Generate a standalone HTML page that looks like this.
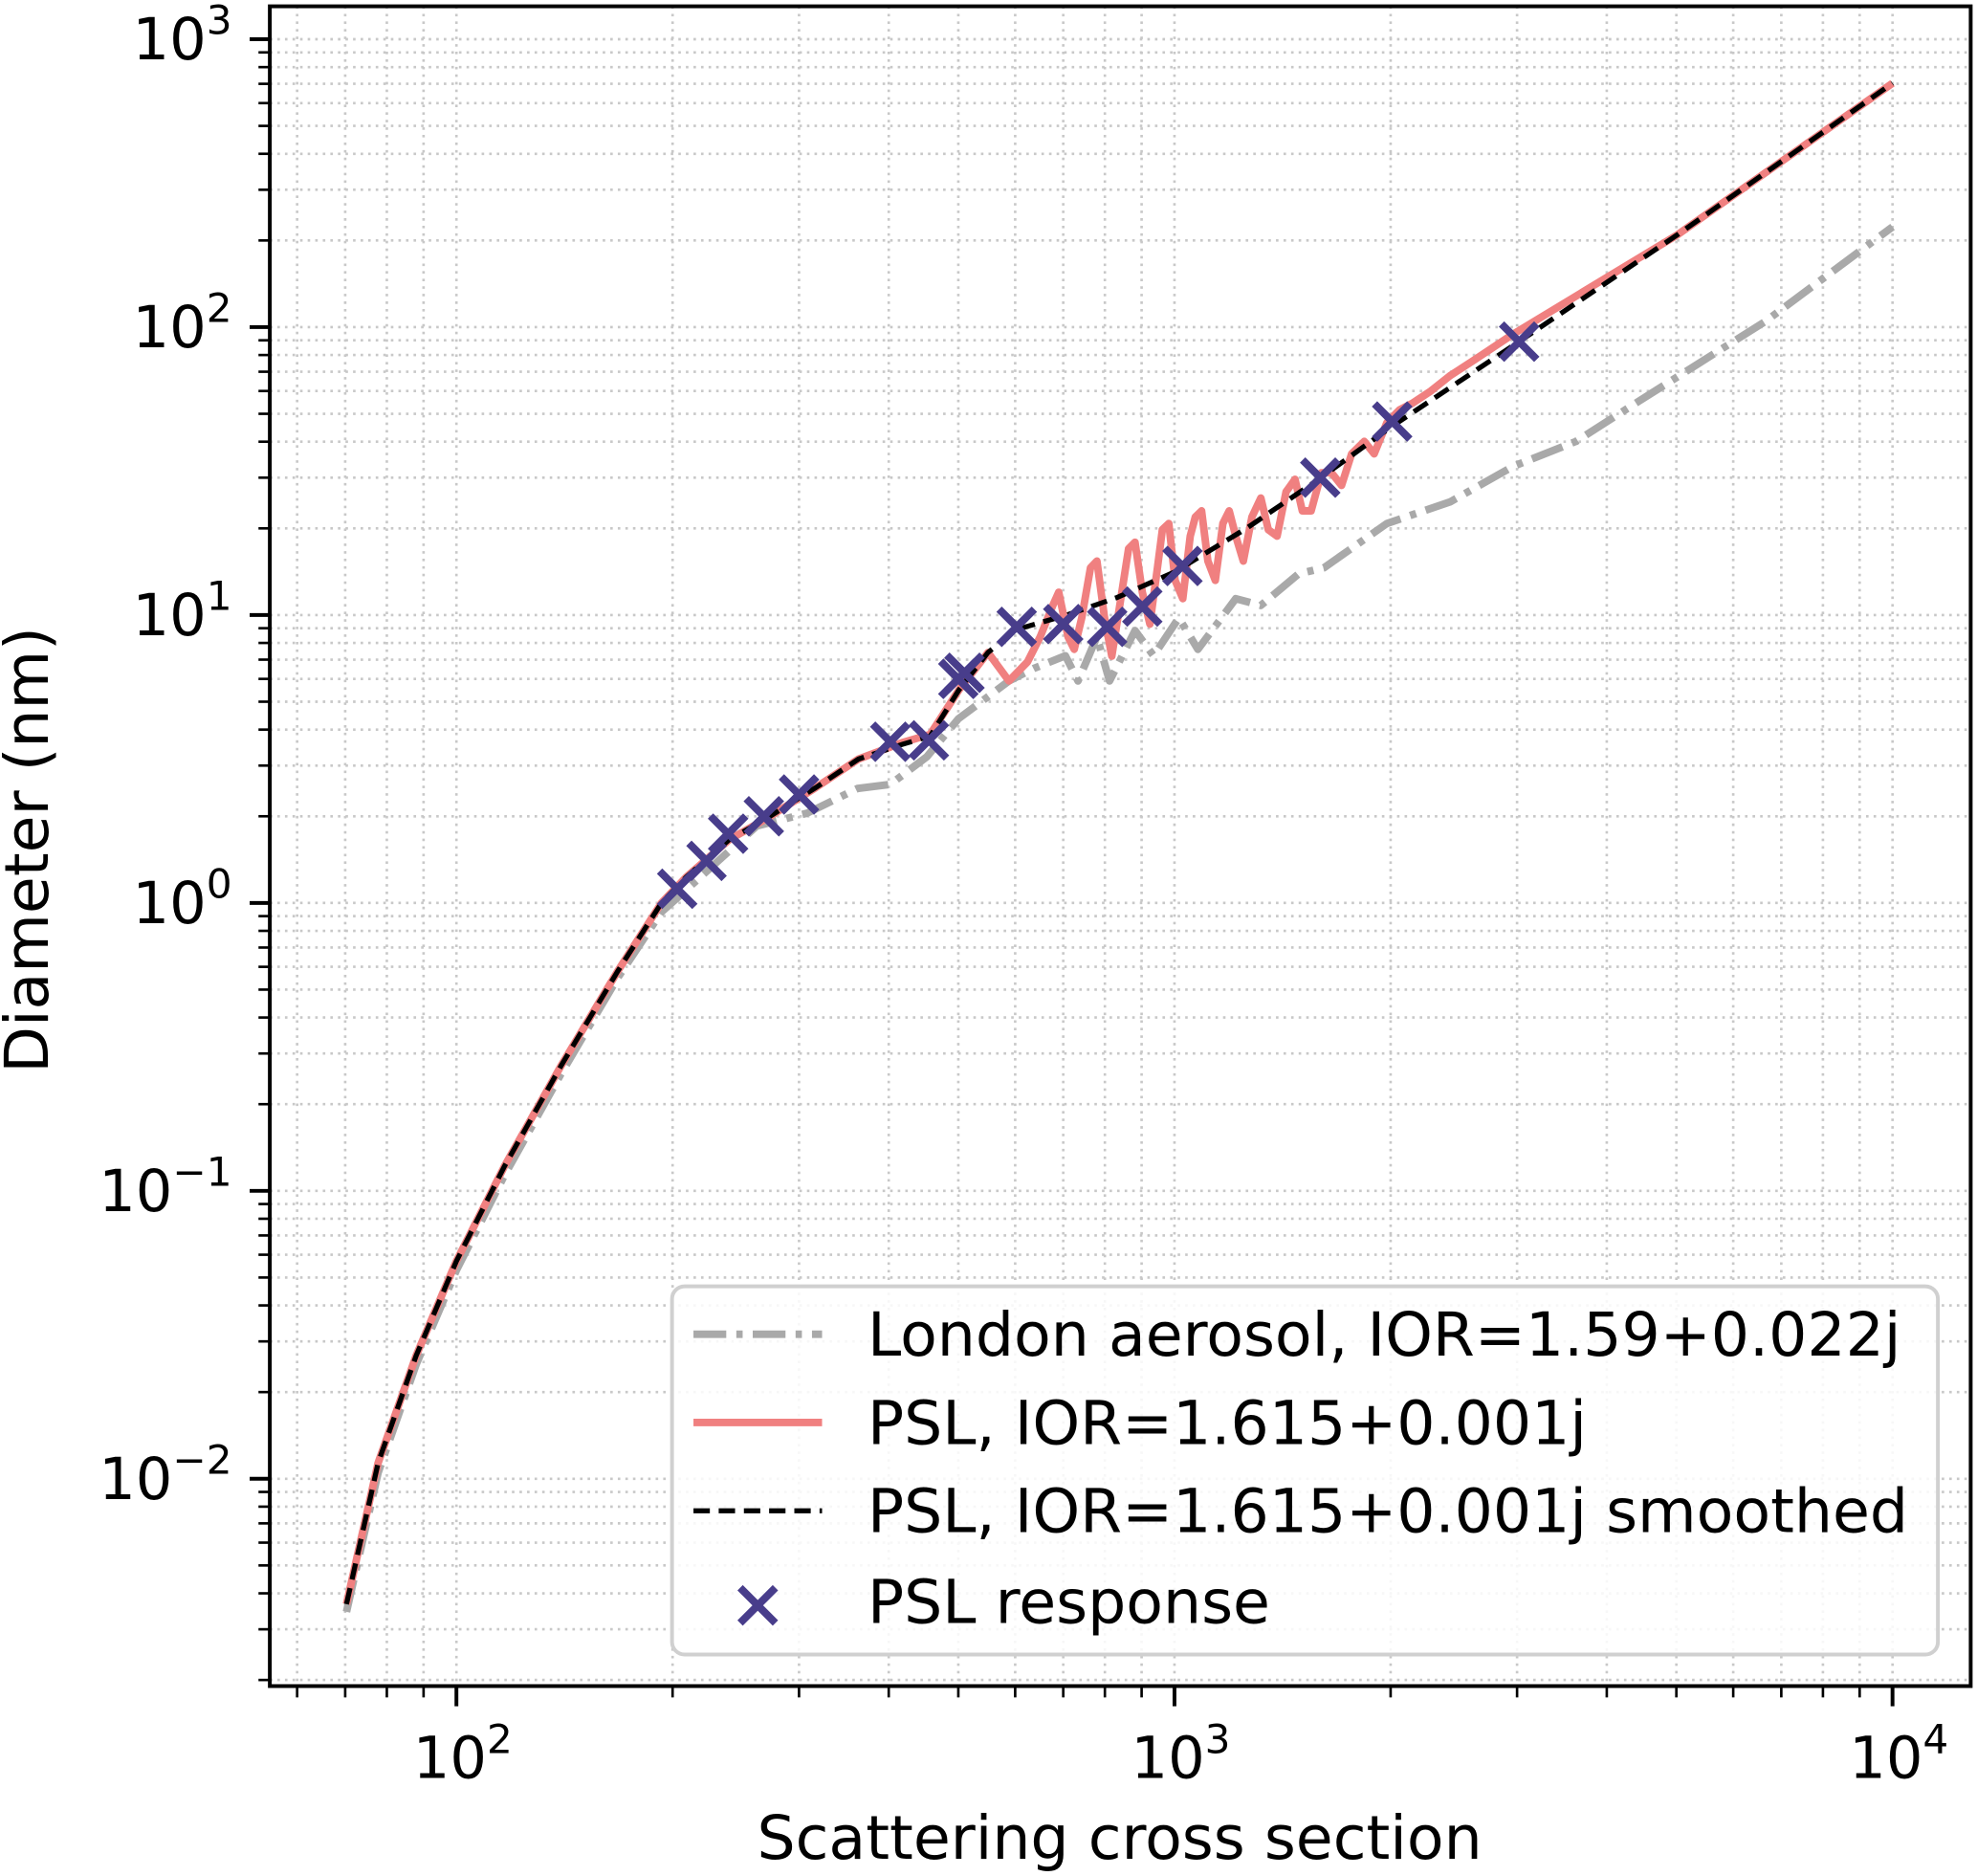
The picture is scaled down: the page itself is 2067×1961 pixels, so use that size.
<!DOCTYPE html>
<html><head><meta charset="utf-8"><style>
html,body{margin:0;padding:0;background:#fff;}
svg{display:block;font-family:"DejaVu Sans","Liberation Sans",sans-serif;}
</style></head><body>
<svg id="chart" width="2067" height="1961" viewBox="0 0 1568 1487.6" xmlns="http://www.w3.org/2000/svg">
<rect x="0" y="0" width="1568" height="1488" fill="#fff"/>
<g id="grid"></g>
<g id="series"></g>
<g id="axes"></g>
<g id="legend"></g>
</svg>
<script>
// ---- data ----
const londonX = [70.3, 77.8, 87.9, 100, 116.6, 139.9, 167.8, 193, 203, 262, 308, 362, 402, 452, 500, 588, 637, 705, 734, 780, 812, 881, 935, 1014, 1078, 1145, 1217, 1319, 1489, 1615, 1976, 2420, 2961, 3624, 4436, 6650, 10000];
const londonY = [0.00345, 0.0105, 0.025, 0.053, 0.113, 0.255, 0.55, 0.93, 1.04, 1.85, 2.05, 2.50, 2.58, 3.22, 4.36, 5.9, 6.53, 7.22, 5.9, 8.4, 5.9, 8.83, 7.22, 9.77, 7.6, 9.29, 11.4, 10.8, 13.9, 14.6, 20.8, 24.7, 32.8, 40.1, 55.4, 104.6, 223];

const pslX = [70.3, 77.8, 87.9, 100, 116.6, 139.9, 167.8, 193, 209, 240, 269, 316, 363, 417, 457, 501, 550, 588, 624, 650, 677, 690, 711, 725, 743, 764, 780, 799, 818, 839, 863, 881, 902, 924, 947, 962, 982, 1002, 1027, 1052, 1069, 1091, 1113, 1140, 1168, 1192, 1217, 1247, 1282, 1319, 1351, 1390, 1430, 1472, 1507, 1550, 1602, 1654, 1709, 1765, 1838, 1897, 1976, 2058, 2143, 2276, 2420, 2624, 2961, 5012, 10000];
const pslY = [0.00367, 0.01135, 0.0268, 0.057, 0.1215, 0.272, 0.58, 1.0, 1.23, 1.66, 1.95, 2.51, 3.16, 3.6, 3.85, 5.5, 7.41, 5.9, 6.87, 8.4, 10.8, 12.0, 8.4, 7.6, 9.8, 14.6, 15.4, 9.8, 7.2, 10.8, 17.0, 17.9, 12.0, 9.3, 14.6, 19.8, 20.8, 13.2, 11.4, 18.8, 21.9, 23.0, 15.4, 13.2, 20.8, 23.0, 18.8, 15.4, 21.9, 25.5, 19.8, 18.8, 26.8, 29.6, 23.0, 23.0, 31.2, 31.2, 28.2, 36.3, 40.1, 36.3, 46.6, 51.6, 54.3, 60.0, 67.8, 77.3, 94.5, 209, 703];

const smoothX = [70.3, 77.8, 87.9, 100, 116.6, 139.9, 167.8, 193, 209, 240, 269, 316, 363, 417, 457, 501, 550, 603, 708, 832, 1000, 1259, 1585, 1995, 3020, 5012, 10000];
const smoothY = [0.00367, 0.01135, 0.0268, 0.057, 0.1215, 0.272, 0.58, 1.0, 1.23, 1.66, 1.95, 2.51, 3.16, 3.55, 3.80, 5.50, 7.41, 8.91, 10.0, 11.5, 14.1, 20.0, 29.5, 44.7, 89.1, 209, 703];

const respX = [203, 223, 239, 268, 300, 402, 455, 500, 510, 603, 700, 806, 902, 1026, 1596, 2010, 3020];
const respY = [1.12, 1.40, 1.74, 2.00, 2.38, 3.63, 3.67, 6.0, 6.3, 9.1, 9.3, 9.1, 10.7, 14.8, 30, 47, 89];

const xTickExps = [2, 3, 4];
const yTickExps = [-2, -1, 0, 1, 2, 3];
const legendLabels = ["London aerosol, IOR=1.59+0.022j", "PSL, IOR=1.615+0.001j", "PSL, IOR=1.615+0.001j smoothed", "PSL response"];

// ---- axes ----
const L = 214, R = 1563, T = 5, B = 1337;
function X(v){ return 362 + 569.5 * (Math.log10(v) - 2); }
function Y(v){ return 716 - 228.3 * Math.log10(v); }
const NS = "http://www.w3.org/2000/svg";
function mk(tag, attrs, parent){ const e = document.createElementNS(NS, tag); for (const k in attrs) e.setAttribute(k, attrs[k]); parent.appendChild(e); return e; }
const grid = document.getElementById('grid'), axes = document.getElementById('axes'), series = document.getElementById('series'), legend = document.getElementById('legend');

const xMinor = [], yMinor = [];
for (let e = 1; e <= 4; e++) for (let m = 2; m <= 9; m++) { const v = m * Math.pow(10, e); if (X(v) > L && X(v) < R) xMinor.push(v); }
for (let e = -3; e <= 3; e++) for (let m = 2; m <= 9; m++) { const v = m * Math.pow(10, e); if (Y(v) > T && Y(v) < B) yMinor.push(v); }

[...xMinor, ...xTickExps.map(e => Math.pow(10, e))].forEach(v => {
  const g = mk('line', {x1: X(v), x2: X(v), y1: T, y2: B, stroke: '#c8c8c8', 'stroke-width': 2, 'stroke-dasharray': '2,4'}, grid);
  
  
});
[...yMinor, ...yTickExps.map(e => Math.pow(10, e))].forEach(v => {
  const g = mk('line', {x1: L, x2: R, y1: Y(v), y2: Y(v), stroke: '#c8c8c8', 'stroke-width': 2, 'stroke-dasharray': '2,4'}, grid);
  
  
});

function path(xs, ys){ return xs.map((x, i) => (i ? 'L' : 'M') + X(x).toFixed(1) + ',' + Y(ys[i]).toFixed(1)).join(''); }
const gl = mk('path', {d: path(londonX, londonY), fill: 'none', stroke: '#a9a9a9', 'stroke-width': 6, 'stroke-dasharray': '26,8,5,8', 'stroke-linejoin': 'round'}, series);


const rl = mk('path', {d: path(pslX, pslY), fill: 'none', stroke: '#f08080', 'stroke-width': 6, 'stroke-linejoin': 'round'}, series);


const bl = mk('path', {d: path(smoothX, smoothY), fill: 'none', stroke: '#000', 'stroke-width': 4, 'stroke-dasharray': '13,7'}, series);


function cross(cx, cy, s, parent){
  return mk('path', {d: `M${cx-s},${cy-s}L${cx+s},${cy+s}M${cx-s},${cy+s}L${cx+s},${cy-s}`, stroke: '#483d8b', 'stroke-width': 6, fill: 'none'}, parent);
}
respX.forEach((x, i) => {
  const m = cross(X(x), Y(respY[i]), 14, series);
  
  
});

// spines
const sp = mk('rect', {x: L, y: T, width: R - L, height: B - T, fill: 'none', stroke: '#000', 'stroke-width': 3}, axes);


xMinor.forEach(v => { const t = mk('line', {x1: X(v), x2: X(v), y1: B, y2: B + 9, stroke: '#000', 'stroke-width': 2}, axes);   });
yMinor.forEach(v => { const t = mk('line', {x1: L, x2: L - 9, y1: Y(v), y2: Y(v), stroke: '#000', 'stroke-width': 2}, axes);   });
xTickExps.forEach(e => {
  const v = Math.pow(10, e);
  const t = mk('line', {x1: X(v), x2: X(v), y1: B, y2: B + 16, stroke: '#000', 'stroke-width': 3}, axes);
  
  
  const tx = mk('text', {x: X(v) + 5, y: 1410, 'font-size': 46, 'text-anchor': 'middle'}, axes);
  
  
  tx.innerHTML = '10<tspan font-size="32" dy="-20">' + e + '</tspan>';
});
yTickExps.forEach(e => {
  const v = Math.pow(10, e);
  const t = mk('line', {x1: L, x2: L - 16, y1: Y(v), y2: Y(v), stroke: '#000', 'stroke-width': 3}, axes);
  
  
  const tx = mk('text', {x: 184, y: Y(v) + 16, 'font-size': 46, 'text-anchor': 'end'}, axes);
  
  
  tx.innerHTML = '10<tspan font-size="32" dy="-20">' + (e < 0 ? '\u2212' + (-e) : e) + '</tspan>';
});
const xl = mk('text', {x: 888, y: 1474, 'font-size': 48, 'text-anchor': 'middle'}, axes);


xl.textContent = 'Scattering cross section';
const yl = mk('text', {x: 0, y: 0, 'font-size': 48, 'text-anchor': 'middle', transform: 'translate(38,674) rotate(-90)'}, axes);


yl.textContent = 'Diameter (nm)';

// legend
const lb = mk('rect', {x: 533, y: 1020, width: 1004, height: 292, rx: 10, fill: 'rgba(255,255,255,0.85)', stroke: '#d0d0d0', 'stroke-width': 3}, legend);


const rows = [1058, 1128, 1198, 1270];
const styles = [
  {stroke: '#a9a9a9', 'stroke-width': 6, 'stroke-dasharray': '26,8,5,8'},
  {stroke: '#f08080', 'stroke-width': 6},
  {stroke: '#000', 'stroke-width': 4, 'stroke-dasharray': '13,7'}
];
legendLabels.forEach((lab, i) => {
  const y = rows[i];
  let s;
  if (i < 3) { s = mk('line', Object.assign({x1: 550, x2: 652, y1: y, y2: y}, styles[i]), legend); }
  else { s = cross(601, y + 3, 14, legend); }
  
  
  const t = mk('text', {x: 688, y: y + 17, 'font-size': 48}, legend);
  
  
  t.textContent = lab;
});
</script>
</body></html>
